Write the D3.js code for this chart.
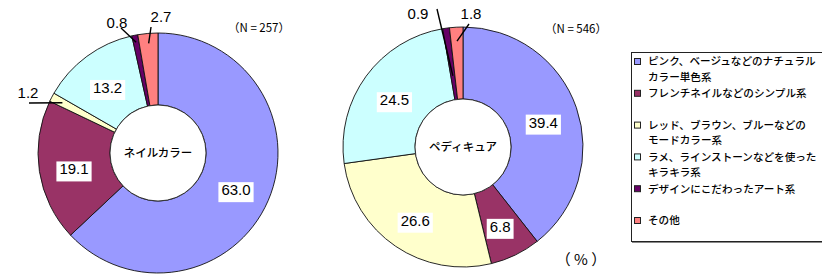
<!DOCTYPE html>
<html>
<head>
<meta charset="utf-8">
<script src="https://cdn.jsdelivr.net/npm/d3@7"></script>
<style>
  body { margin: 0; background: #fff; }
  svg { display: block; }
  .num { font-family: "Liberation Sans", Arial, sans-serif; font-size: 15px; fill: #000; }
  .jp { font-family: "Noto Sans CJK JP", sans-serif; fill: #000; }
</style>
</head>
<body>
<div id="chart"></div>
<script>
// data
const categories = [
  ["ピンク、ベージュなどのナチュラル", "カラー単色系"],
  ["フレンチネイルなどのシンプル系"],
  ["レッド、ブラウン、ブルーなどの", "モードカラー系"],
  ["ラメ、ラインストーンなどを使った", "キラキラ系"],
  ["デザインにこだわったアート系"],
  ["その他"]
]
const nailValues = [63.0, 19.1, 1.2, 13.2, 0.8, 2.7]
const pedicureValues = [39.4, 6.8, 26.6, 24.5, 0.9, 1.8]
const chartNames = ["ネイルカラー", "ペディキュア"]
const sampleSizes = ["（N = 257）", "（N = 546）"]
const unitLabel = "（ % ）"

const colors = ["#9999ff", "#993366", "#ffffcc", "#ccffff", "#660066", "#ff8080"]

const width = 822
const height = 274
const outerR = 120
const innerR = 48

const svg = d3.select("#chart")
  .append("svg")
  .attr("width", width)
  .attr("height", height)

const pie = d3.pie().sort(null).value(d => d)
const arc = d3.arc().innerRadius(innerR).outerRadius(outerR)

const polar = (a, r) => [r * Math.sin(a), -r * Math.cos(a)]

// small slices get labels outside, with a leader line
// text: label centre (relative to pie centre), from: line start, r: where the line ends inside the slice
const charts = [
  {
    values: nailValues, cx: 158, cy: 153, nx: 259, ny: 28,
    outside: {
      2: { text: [-130, -60], from: [-129, -50], r: 108 },
      4: { text: [-41, -130], from: [-37, -125], r: 113 },
      5: { text: [3, -136], from: [-7, -126], r: 110 }
    }
  },
  {
    values: pedicureValues, cx: 463, cy: 147, nx: 576, ny: 29,
    outside: {
      4: { text: [-45, -133], from: [-26, -138], r: 72 },
      5: { text: [8, -133], from: [6, -123], r: 106 }
    }
  }
]

charts.forEach((c, ci) => {
  const g = svg.append("g").attr("transform", `translate(${c.cx},${c.cy})`)
  const arcs = pie(c.values)

  g.selectAll("path.slice")
    .data(arcs)
    .enter()
    .append("path")
    .attr("class", "slice")
    .attr("d", arc)
    .attr("fill", (d, i) => colors[i])
    .attr("stroke", "#111")
    .attr("stroke-width", 0.9)

  // hole
  g.append("circle")
    .attr("r", innerR)
    .attr("fill", "#fff")
    .attr("stroke", "#222")
    .attr("stroke-width", 0.9)

  g.append("text")
    .attr("class", "jp")
    .attr("text-anchor", "middle")
    .attr("dy", "0.36em")
    .style("font-size", "11.5px")
    .style("font-weight", 500)
    .text(chartNames[ci])

  // inside labels with white boxes
  arcs.forEach((d, i) => {
    if (c.outside[i]) return
    const mid = (d.startAngle + d.endAngle) / 2
    const [x, y] = polar(mid, 85)
    const lg = g.append("g").attr("transform", `translate(${x},${y + 3})`)
    const t = lg.append("text")
      .attr("class", "num")
      .attr("text-anchor", "middle")
      .attr("dy", "0.36em")
      .text(d.value.toFixed(1))
    const bb = t.node().getBBox()
    lg.insert("rect", "text")
      .attr("x", bb.x - 3)
      .attr("y", bb.y + 1)
      .attr("width", bb.width + 6)
      .attr("height", bb.height + 3)
      .attr("fill", "#fff")
  })

  // outside labels
  arcs.forEach((d, i) => {
    const o = c.outside[i]
    if (!o) return
    const mid = (d.startAngle + d.endAngle) / 2
    const end = polar(mid, o.r)
    g.append("line")
      .attr("x1", o.from[0]).attr("y1", o.from[1])
      .attr("x2", end[0]).attr("y2", end[1])
      .attr("stroke", "#000")
      .attr("stroke-width", 1.4)
    g.append("text")
      .attr("class", "num")
      .attr("x", o.text[0])
      .attr("y", o.text[1])
      .attr("text-anchor", "middle")
      .attr("dy", "0.36em")
      .text(d.value.toFixed(1))
  })

  svg.append("text")
    .attr("class", "jp")
    .attr("x", c.nx)
    .attr("y", c.ny)
    .attr("text-anchor", "middle")
    .attr("dy", "0.36em")
    .style("font-size", "11.5px")
    .text(sampleSizes[ci])
})

svg.append("text")
  .attr("class", "jp")
  .attr("x", 581)
  .attr("y", 260)
  .attr("text-anchor", "middle")
  .attr("dy", "0.36em")
  .style("font-size", "15px")
  .text(unitLabel)

// legend
const legend = svg.append("g").attr("transform", "translate(631,52)")
legend.append("rect")
  .attr("x", 1).attr("y", 1)
  .attr("width", 210).attr("height", 190)
  .attr("fill", "#888")
legend.append("rect")
  .attr("x", 0.5).attr("y", 0.5)
  .attr("width", 210).attr("height", 189)
  .attr("fill", "#fff")
  .attr("stroke", "#222")

const items = legend.selectAll("g.item")
  .data(categories)
  .enter()
  .append("g")
  .attr("class", "item")
  .attr("transform", (d, i) => `translate(0,${9.5 + i * 31.8})`)

items.append("rect")
  .attr("x", 3.5).attr("y", -3)
  .attr("width", 6).attr("height", 6)
  .attr("fill", (d, i) => colors[i])
  .attr("stroke", "#222")
  .attr("stroke-width", 1)

items.each(function(lines) {
  d3.select(this).selectAll("text")
    .data(lines)
    .enter()
    .append("text")
    .attr("class", "jp")
    .attr("x", 17)
    .attr("y", (d, j) => j * 15.5)
    .attr("dy", "0.36em")
    .style("font-size", "10.6px")
    .style("font-weight", 500)
    .text(d => d)
})
</script>
</body>
</html>
